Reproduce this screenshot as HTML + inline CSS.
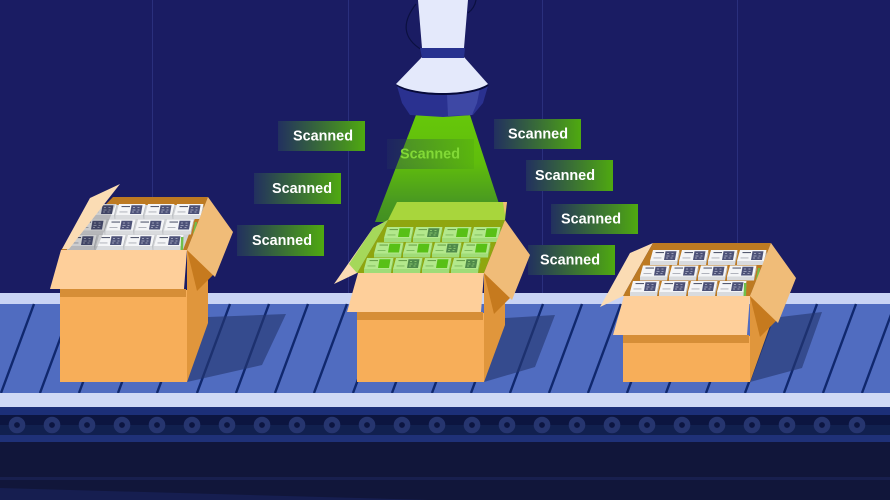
<!DOCTYPE html>
<html><head><meta charset="utf-8"><style>
html,body{margin:0;padding:0;background:#1a1c63}
svg{display:block}
.t{font-family:"Liberation Sans",sans-serif;font-weight:700;font-size:14.4px;fill:#fff}
</style></head><body>
<svg width="890" height="500" viewBox="0 0 890 500" xmlns="http://www.w3.org/2000/svg">
<defs>
<linearGradient id="lg"><stop offset="0" stop-color="#22305f"/><stop offset="1" stop-color="#4fa910"/></linearGradient>
<linearGradient id="beam" x1="0" y1="0" x2="0" y2="1"><stop offset="0" stop-color="#66c70a"/><stop offset=".45" stop-color="#60bd0c"/><stop offset=".8" stop-color="#4a9a20"/><stop offset="1" stop-color="#428f22"/></linearGradient>
<g id="c">
<polygon points="0,11 27,11 27,15 0,15" fill="#d9dbde"/>
<polygon points="27,11 29.500,1 29.500,4 27,15" fill="#b9bcc0"/>
<polygon points="3,0 29.500,0 27,11 0,11" fill="#f4f5f7"/>
<polygon points="15.500,1.200 26.500,1.200 25,10 14,10" fill="#4d5278"/>
<path d="M17 3.500h2M21.500 3.500h2M16.500 6h3M21.500 6h2M16 8h2M20.500 8h2" stroke="#b4b8cb" stroke-width=".8"/>
<rect x="5.500" y="2" width="8.500" height="1.100" fill="#555a70"/>
<rect x="3.500" y="7.500" width="8" height=".9" fill="#a9acb5"/>
</g>
<g id="g1">
<polygon points="0,11 27,11 27,15 0,15" fill="#a0dc78"/>
<polygon points="27,11 29.500,1 29.500,4 27,15" fill="#7fc85a"/>
<polygon points="3,0 29.500,0 27,11 0,11" fill="#b3e88c"/>
<polygon points="15.500,1.200 26.500,1.200 25,10 14,10" fill="#58c016"/>
<rect x="5.500" y="2" width="8.500" height="1.100" fill="#6ba34a"/>
<rect x="3.500" y="7.500" width="8" height=".9" fill="#7db85c"/>
</g>
<g id="g2">
<polygon points="0,11 27,11 27,15 0,15" fill="#a0dc78"/>
<polygon points="27,11 29.500,1 29.500,4 27,15" fill="#7fc85a"/>
<polygon points="3,0 29.500,0 27,11 0,11" fill="#b3e88c"/>
<polygon points="15.500,1.200 26.500,1.200 25,10 14,10" fill="#4f8a4a"/>
<path d="M17 3.500h2M21.500 3.500h2M16.500 6h3M21.500 6h2M16 8h2M20.500 8h2" stroke="#98d478" stroke-width=".8"/>
<rect x="5.500" y="2" width="8.500" height="1.100" fill="#6ba34a"/>
<rect x="3.500" y="7.500" width="8" height=".9" fill="#7db85c"/>
</g>
<g id="cards">
<use href="#c" x="87" y="204"/><use href="#c" x="116" y="204"/><use href="#c" x="145" y="204"/><use href="#c" x="174" y="204"/>
<use href="#c" x="77" y="219.500"/><use href="#c" x="106" y="219.500"/><use href="#c" x="135" y="219.500"/><use href="#c" x="164" y="219.500"/>
<use href="#c" x="67" y="235"/><use href="#c" x="96" y="235"/><use href="#c" x="125" y="235"/><use href="#c" x="154" y="235"/>
<polygon points="195,222 197,222 195,234 193,234" fill="#6fbf4a"/>
<polygon points="181,237 183.500,237 183,250 180.500,250" fill="#6fbf4a"/>
</g>
<g id="upper">
<polygon points="60,289 186,289 186,297 60,297" fill="#d68e37"/>
<polygon points="50,289 61,250 187,250 184,289" fill="#fecf9a"/>
<polygon points="187,250 214,274 197,291" fill="#c67a1e"/>
<polygon points="208,197 233,232 215,277 187,250" fill="#f0bc78"/>
</g>
</defs>

<rect width="890" height="500" fill="#1a1c63"/>
<path d="M152.500 0V293M348.500 0V293M542.500 0V293M737.500 0V293" stroke="#2a2f7d" stroke-width="1"/>

<!-- conveyor -->
<rect x="0" y="293" width="890" height="11" fill="#c9d4f4"/>
<rect x="0" y="304" width="890" height="89" fill="#506cc0"/>
<path d="M1 393l33-89M40 393l33-89M79 393l33-89M118 393l33-89M157 393l33-89M197 393l33-89M236 393l33-89M275 393l33-89M314 393l33-89M353 393l33-89M392 393l33-89M432 393l33-89M471 393l33-89M510 393l33-89M549 393l33-89M588 393l33-89M627 393l33-89M666 393l33-89M706 393l33-89M745 393l33-89M784 393l33-89M823 393l33-89M862 393l33-89" stroke="#10286e" stroke-width="2.400"/>
<polygon points="208,317 286,314 262,365 187,382" fill="#25376f" opacity=".62"/>
<polygon points="505,318 555,315 535,367 484,382" fill="#25376f" opacity=".62"/>
<polygon points="772,318 822,312 802,368 750,382" fill="#25376f" opacity=".62"/>
<rect x="0" y="393" width="890" height="14" fill="#cfd9f5"/>
<rect x="0" y="407" width="890" height="8" fill="#1c2f78"/>
<rect x="0" y="415" width="890" height="20" fill="#0c1540"/>
<rect x="0" y="425" width="890" height="10" fill="#11204f"/>
<rect x="0" y="435" width="890" height="7" fill="#1f3178"/>
<rect x="0" y="442" width="890" height="58" fill="#11163a"/>
<rect x="0" y="477" width="890" height="3" fill="#181f4e"/>
<polygon points="0,488 430,500 0,500" fill="#161e50"/>
<g fill="#0c1540" stroke="#26356f" stroke-width="5.400">
<circle cx="17" cy="425" r="5.600"/><circle cx="52" cy="425" r="5.600"/><circle cx="87" cy="425" r="5.600"/><circle cx="122" cy="425" r="5.600"/><circle cx="157" cy="425" r="5.600"/><circle cx="192" cy="425" r="5.600"/><circle cx="227" cy="425" r="5.600"/><circle cx="262" cy="425" r="5.600"/><circle cx="297" cy="425" r="5.600"/><circle cx="332" cy="425" r="5.600"/><circle cx="367" cy="425" r="5.600"/><circle cx="402" cy="425" r="5.600"/><circle cx="437" cy="425" r="5.600"/><circle cx="472" cy="425" r="5.600"/><circle cx="507" cy="425" r="5.600"/><circle cx="542" cy="425" r="5.600"/><circle cx="577" cy="425" r="5.600"/><circle cx="612" cy="425" r="5.600"/><circle cx="647" cy="425" r="5.600"/><circle cx="682" cy="425" r="5.600"/><circle cx="717" cy="425" r="5.600"/><circle cx="752" cy="425" r="5.600"/><circle cx="787" cy="425" r="5.600"/><circle cx="822" cy="425" r="5.600"/><circle cx="857" cy="425" r="5.600"/>
</g>

<!-- beam -->
<polygon points="416,115 470,115 505,222 375,222" fill="url(#beam)"/>

<!-- scanner -->
<path d="M416 4C402 22 402 38 422 50M476 0C475 6 472 10 468 13" fill="none" stroke="#0b1040" stroke-width="1.200"/>
<polygon points="397,86 488,86 483,103 473,115 443,117 410,115 402,103" fill="#2a3190"/>
<polygon points="447,94 480,88 477,103 472,115 448,116" fill="#3e48a5"/>
<path d="M397 85C415 97 470 97 488 85" fill="none" stroke="#060a38" stroke-width="2"/>
<path d="M422 57H464L488 84C470 96 415 96 396 84Z" fill="#e4e9fb"/>
<polygon points="418,0 468,0 464,48 422,48" fill="#e4e9fb"/>
<polygon points="420,48 465,48 464,58 422,58" fill="#27328f"/>

<!-- labels -->
<rect x="278" y="121" width="87" height="30" fill="url(#lg)"/><text class="t" x="293" y="140.500">Scanned</text>
<rect x="254" y="173" width="87" height="31" fill="url(#lg)"/><text class="t" x="272" y="193">Scanned</text>
<rect x="237" y="225" width="87" height="31" fill="url(#lg)"/><text class="t" x="252" y="245">Scanned</text>
<rect x="494" y="119" width="87" height="30" fill="url(#lg)"/><text class="t" x="508" y="138.500">Scanned</text>
<rect x="526" y="160" width="87" height="31" fill="url(#lg)"/><text class="t" x="535" y="180">Scanned</text>
<rect x="551" y="204" width="87" height="30" fill="url(#lg)"/><text class="t" x="561" y="223.500">Scanned</text>
<rect x="528" y="245" width="87" height="30" fill="url(#lg)"/><text class="t" x="540" y="264.500">Scanned</text>
<rect x="387" y="139" width="87" height="30" fill="url(#lg)" opacity=".38"/><text class="t" x="400" y="158.500" style="fill:#82d936">Scanned</text>

<!-- box 1 -->
<g>
<polygon points="187,250 208,197 208,323 187,382" fill="#e0963c"/>
<polygon points="113,197 208,197 187,250 61,250" fill="#bd7a22"/>
<polygon points="70,250 100,205 200,205 183,250" fill="#cfd1d4"/>
<use href="#cards"/>
<polygon points="67,250 96,250 116,204 88,204" fill="#000" opacity=".16"/>
<polygon points="120,184 90,198 62,249 69,249" fill="#fbdcb4"/>
<rect x="60" y="290" width="127" height="92" fill="#f7ae59"/>
<use href="#upper"/>
</g>

<!-- box 2 -->
<g transform="translate(297 23)">
<polygon points="187,250 208,197 208,302 187,359" fill="#e0963c"/>
<polygon points="37,261 76,205 91,197 60,250" fill="#fbdcb4"/>
<polygon points="100,179 210,179 208,197 91,197" fill="#a8d63c"/>
<polygon points="206,179 210,179 208,192" fill="#f0bc78"/>
<polygon points="91,197 208,197 187,250 60,250" fill="#8fa610"/>
<polygon points="91,197 60,250 52,241 76,205" fill="#a5d85a"/>
<g>
<use href="#g1" x="87" y="204"/><use href="#g2" x="116" y="204"/><use href="#g1" x="145" y="204"/><use href="#g1" x="174" y="204"/>
<use href="#g1" x="77" y="219.500"/><use href="#g1" x="106" y="219.500"/><use href="#g2" x="135" y="219.500"/><use href="#g1" x="164" y="219.500"/>
<use href="#g1" x="67" y="235"/><use href="#g2" x="96" y="235"/><use href="#g1" x="125" y="235"/><use href="#g2" x="154" y="235"/>
</g>
<rect x="60" y="290" width="127" height="69" fill="#f7ae59"/>
<use href="#upper"/>
</g>

<!-- box 3 -->
<g transform="translate(563 46)">
<polygon points="187,250 208,197 208,277 187,336" fill="#e0963c"/>
<polygon points="37,261 67,207 90,197 60,250" fill="#fbdcb4"/>
<polygon points="90,197 208,197 187,250 60,250" fill="#bd7a22"/>
<use href="#cards"/>
<rect x="60" y="290" width="127" height="46" fill="#f7ae59"/>
<use href="#upper"/>
</g>
</svg>
</body></html>
